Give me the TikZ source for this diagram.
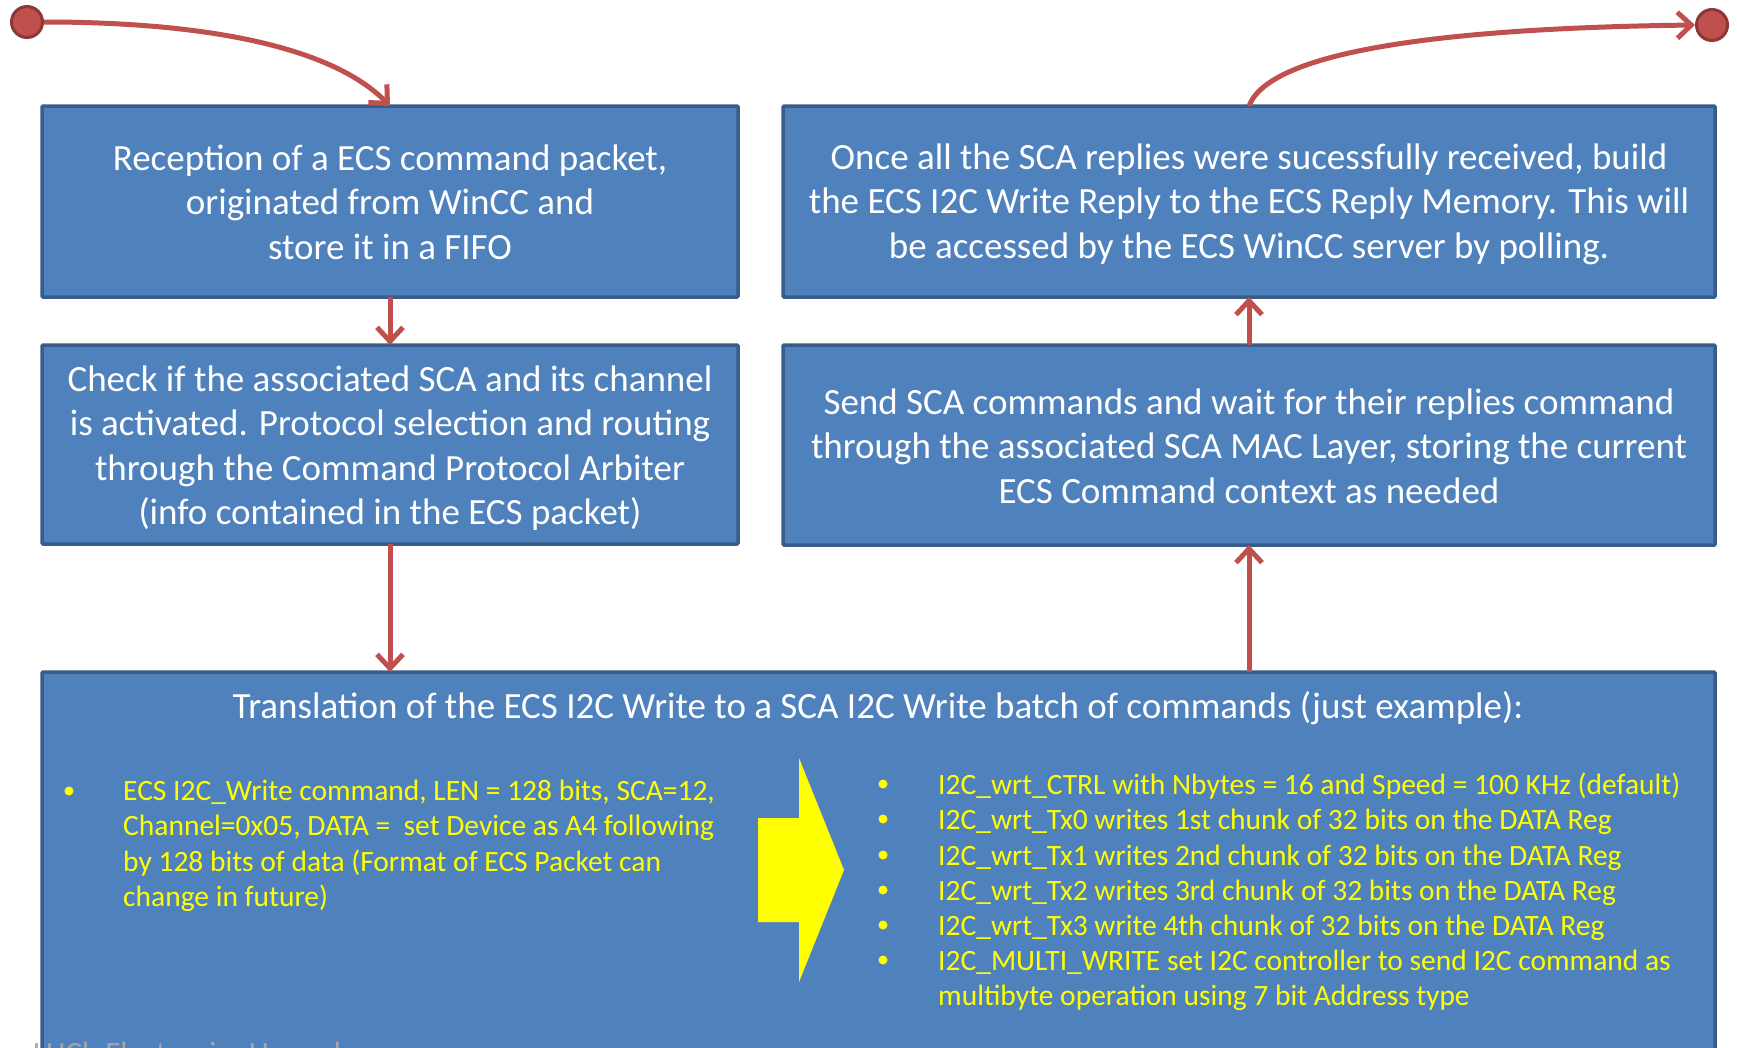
\documentclass[tikz,border=0pt]{standalone}
\usepackage{fontspec}
\setmainfont{Carlito}
\usetikzlibrary{arrows.meta}
\definecolor{boxfill}{HTML}{4F81BD}
\definecolor{boxline}{HTML}{385D8A}
\definecolor{flow}{HTML}{C0504D}
\definecolor{flowdark}{HTML}{8C3836}
\definecolor{hilite}{HTML}{FFFF00}
\begin{document}
\begin{tikzpicture}[x=1pt,y=-1pt,
  stepbox/.style={draw=boxline,fill=boxfill,line width=3.5pt,rounded corners=1pt},
  boxtext/.style={text=white,align=center,inner sep=0pt,font=\fontsize{37}{44.5}\selectfont},
  ytext/.style={text=hilite,inner sep=0pt,anchor=base west,align=left,font=\fontsize{29.5}{35.5}\selectfont},
  ydot/.style={circle,fill=hilite,inner sep=0pt,minimum size=9pt},
  flowarrow/.style={draw=flow,line width=5pt,-{Straight Barb[length=14pt,width=26pt,line width=5pt]}},
  endpoint/.style={circle,fill=flow,draw=flowdark,line width=3pt,minimum size=31pt,inner sep=0pt}]
\useasboundingbox (0,0) rectangle (1737,1047);

% process boxes
\draw[stepbox] (42,106) rectangle (738,297);
\coordinate (b1t) at (390,106); \coordinate (b1b) at (390,297);
\draw[stepbox] (42,345) rectangle (738,544);
\coordinate (b2t) at (390,345); \coordinate (b2b) at (390,544);
\draw[stepbox] (783,106) rectangle (1715,297);
\coordinate (b3t) at (1249,106); \coordinate (b3b) at (1249,297);
\draw[stepbox] (783,345) rectangle (1715,545);
\coordinate (b4t) at (1249,345); \coordinate (b4b) at (1249,545);
\draw[stepbox] (42,672) rectangle (1715,1090);
\coordinate (b5l) at (390,672); \coordinate (b5r) at (1249,672);

\node[boxtext] (t1) at (390,202) {Reception of a ECS command packet,\\originated from WinCC and\\store it in a FIFO};
\node[boxtext] (t2) at (390,448) {Check if the associated SCA and its channel\\is activated. Protocol selection and routing\\through the Command Protocol Arbiter\\(info contained in the ECS packet)};
\node[boxtext] (t3) at (1249,204) {Once all the SCA replies were sucessfully received, build\\the ECS I2C Write Reply to the ECS Reply Memory. This will\\be accessed by the ECS WinCC server by polling.};
\node[boxtext] (t4) at (1249,446) {Send SCA commands and wait for their replies command\\through the associated SCA MAC Layer, storing the current\\ECS Command context as needed};
\node[boxtext,anchor=base] (t5) at (878,718) {Translation of the ECS I2C Write to a SCA I2C Write batch of commands (just example):};

% left list (a multi-line node sits on the baseline of its last line)
\node[ydot] (ld1) at (69,791) {};
\node[ytext] (l1) at (123,906.5) {ECS I2C\_Write command, LEN = 128 bits, SCA=12,\\Channel=0x05, DATA =~~set Device as A4 following\\by 128 bits of data (Format of ECS Packet can\\change in future)};

% translation arrow
\fill[hilite] (758,818) -- (799,818) -- (799,758) -- (844,870) -- (799,982) -- (799,922) -- (758,922) -- cycle;

% right list
\node[ydot] (rd1) at (883,784) {};
\node[ydot] (rd2) at (883,819) {};
\node[ydot] (rd3) at (883,855) {};
\node[ydot] (rd4) at (883,890) {};
\node[ydot] (rd5) at (883,925) {};
\node[ydot] (rd6) at (883,960) {};
\node[ytext] (r1) at (938,794) {I2C\_wrt\_CTRL with Nbytes = 16 and Speed = 100 KHz (default)};
\node[ytext] (r2) at (938,829) {I2C\_wrt\_Tx0 writes 1st chunk of 32 bits on the DATA Reg};
\node[ytext] (r3) at (938,865) {I2C\_wrt\_Tx1 writes 2nd chunk of 32 bits on the DATA Reg};
\node[ytext] (r4) at (938,900) {I2C\_wrt\_Tx2 writes 3rd chunk of 32 bits on the DATA Reg};
\node[ytext] (r5) at (938,935) {I2C\_wrt\_Tx3 write 4th chunk of 32 bits on the DATA Reg};
\node[ytext] (r6) at (938,1005.5) {I2C\_MULTI\_WRITE set I2C controller to send I2C command as\\multibyte operation using 7 bit Address type};

% footer
\node[text=black!35,anchor=base west,inner sep=0pt,font=\fontsize{31}{33}\selectfont] (foot) at (33,1063) {LHCb Electronics Upgrade};

% entry and exit points
\node[endpoint] (start) at (27,22) {};
\node[endpoint] (stop) at (1712,25) {};

% flow connectors
\draw[flowarrow] (start.east) .. controls (200,22) and (330,45) .. (b1t);
\draw[flowarrow] (b1b) -- (b2t);
\draw[flowarrow] (b2b) -- (b5l);
\draw[flowarrow] (b5r) -- (b4b);
\draw[flowarrow] (b4t) -- (b3b);
\draw[flowarrow] (b3t) .. controls (1270,50) and (1450,28) .. (stop.west);
\end{tikzpicture}
\end{document}
